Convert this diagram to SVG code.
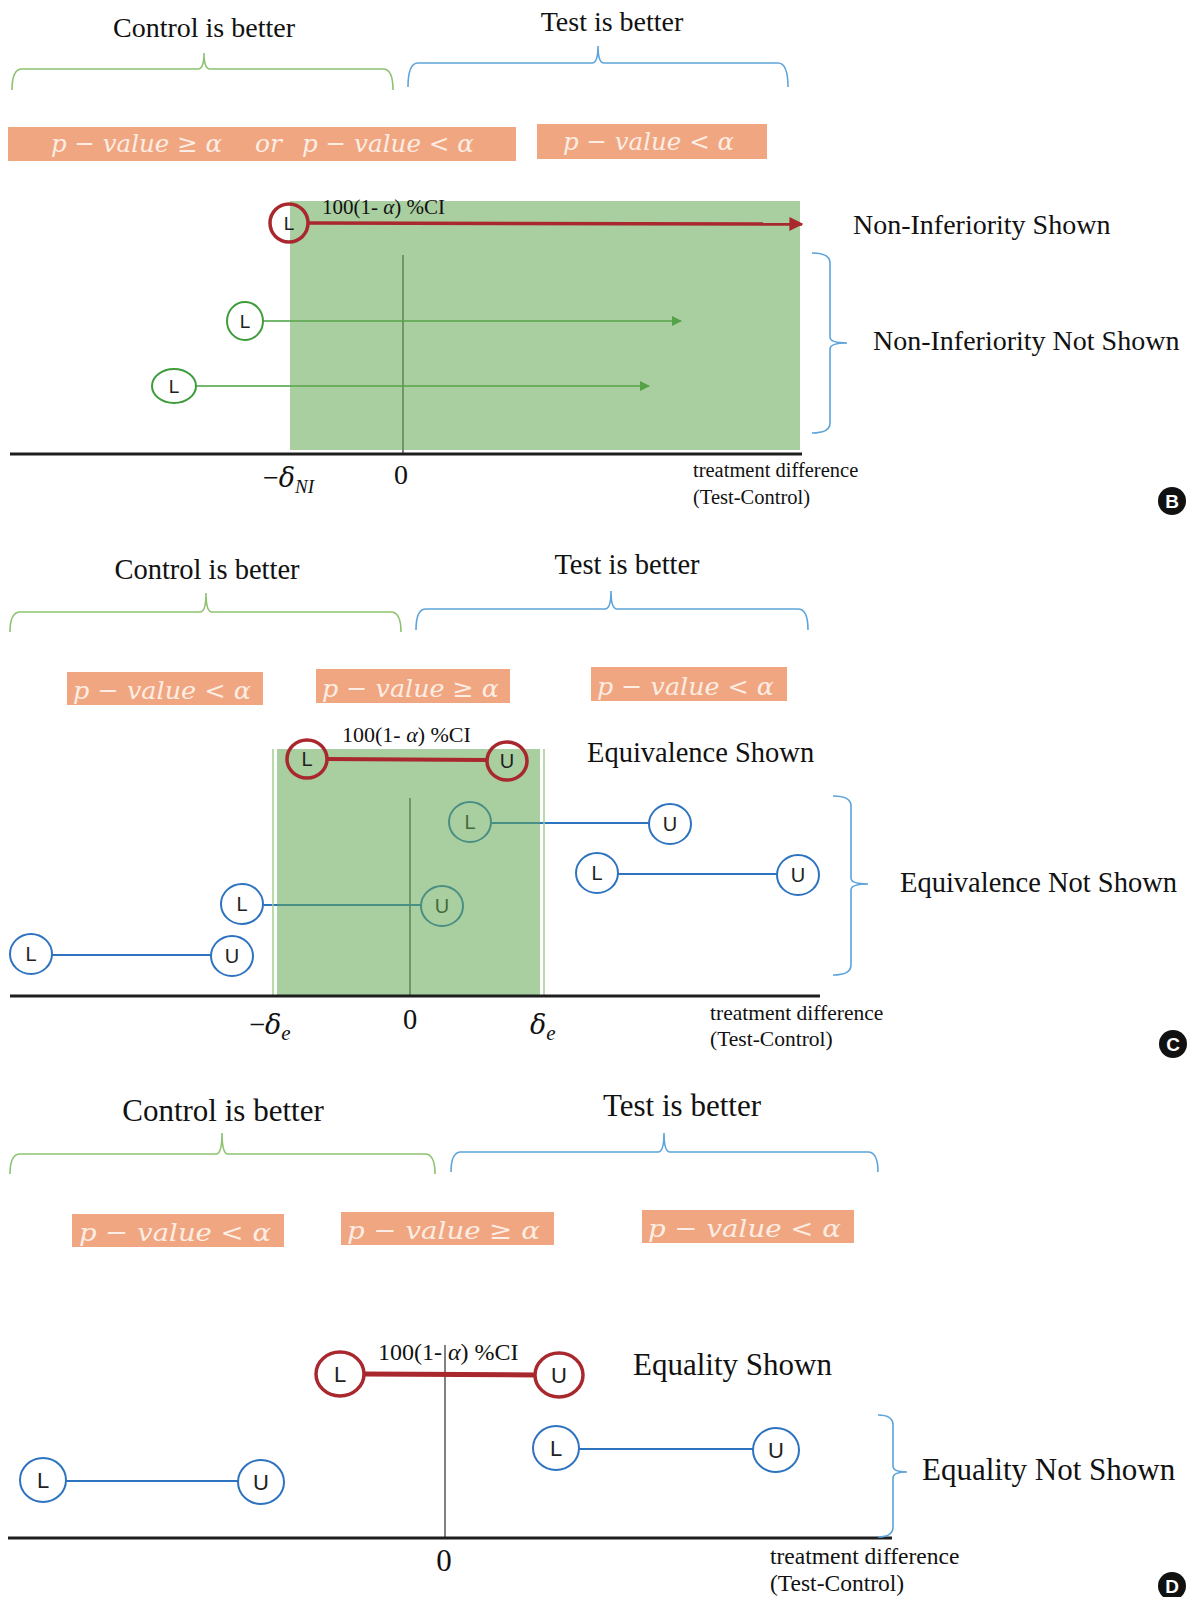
<svg xmlns="http://www.w3.org/2000/svg" width="1190" height="1597" viewBox="0 0 1190 1597">
<style>
.hd{font-family:"Liberation Serif","Times New Roman",serif;fill:#111}
.pv{font-family:"DejaVu Serif","Liberation Serif",serif;font-style:italic;fill:#FDEDE4;font-size:25px}
.obox{fill:#F0A680}
.gb{fill:none;stroke:#8DC26F;stroke-width:1.6}
.bb{fill:none;stroke:#5DA4DA;stroke-width:1.6}
.ax{stroke:#1E1E1E;stroke-width:3}
.vl{stroke:#1a1a1a;stroke-width:1.1}
.rc{fill:none;stroke:#A8282E;stroke-width:3.5}
.rcw{fill:#fff;stroke:#A8282E;stroke-width:3.5}
.bc{fill:#fff;stroke:#2E73C0;stroke-width:2}
.gc{fill:#fff;stroke:#3F9C3B;stroke-width:2}
.lab{font-family:"Liberation Sans",Arial,sans-serif;fill:#222;text-anchor:middle}
.rl{stroke:#A8282E;fill:none}
.bl{stroke:#2E73C0;stroke-width:2;fill:none}
.gl{stroke:#46A03C;stroke-width:1.5;fill:none}
.grn{fill:#63A652;opacity:0.55}
.badge{fill:#111}
.bt{font-family:"Liberation Sans",Arial,sans-serif;font-weight:bold;fill:#fff;text-anchor:middle;font-size:19px}
.dl{font-family:"DejaVu Serif","Liberation Serif",serif;font-style:italic}
</style>
<defs>
<marker id="ar" viewBox="0 0 10 10" refX="9" refY="5" markerWidth="4" markerHeight="4" orient="auto" markerUnits="strokeWidth"><path d="M0,0 L10,5 L0,10 z" fill="#A8282E"/></marker>
<marker id="ag" viewBox="0 0 10 10" refX="9" refY="5" markerWidth="7" markerHeight="7" orient="auto" markerUnits="strokeWidth"><path d="M0,0 L10,5 L0,10 z" fill="#46A03C"/></marker>
</defs>

<!-- ================= Panel B ================= -->
<g id="panelB">
  <text class="hd" x="204" y="37" font-size="28" text-anchor="middle">Control is better</text>
  <text class="hd" x="612" y="31" font-size="28" text-anchor="middle">Test is better</text>
  <path class="gb" d="M12,90 Q12,69 22,69 L198,69 Q204,69 204,53 Q204,69 210,69 L383,69 Q393,69 393,90"/>
  <path class="bb" d="M408,87 Q408,63 418,63 L592,63 Q598,63 598,46 Q598,63 604,63 L778,63 Q788,63 788,87"/>
  <rect class="obox" x="8" y="127" width="508" height="34"/>
  <text class="pv" x="51" y="152" textLength="171" lengthAdjust="spacingAndGlyphs">p − value ≥ α</text>
  <text class="pv" x="255" y="152">or</text>
  <text class="pv" x="302" y="152" textLength="172" lengthAdjust="spacingAndGlyphs">p − value &lt; α</text>
  <rect class="obox" x="537" y="124" width="230" height="35"/>
  <text class="pv" x="563" y="150" textLength="171" lengthAdjust="spacingAndGlyphs">p − value &lt; α</text>
  <line class="vl" x1="403" y1="255" x2="403" y2="454"/>
  <g id="B-conn">
    <line class="gl" x1="263" y1="321" x2="681" y2="321" marker-end="url(#ag)"/>
    <line class="gl" x1="196" y1="386" x2="649" y2="386" marker-end="url(#ag)"/>
  </g>
  <g id="B-L2"><ellipse class="gc" cx="245" cy="321" rx="18" ry="19"/><text class="lab" x="245" y="328" font-size="19">L</text></g>
  <g id="B-L3"><ellipse class="gc" cx="174" cy="386" rx="22" ry="17"/><text class="lab" x="174" y="393" font-size="19">L</text></g>
  <rect class="grn" x="290" y="201" width="510" height="249"/>
  <text class="hd" x="322" y="214" font-size="21" fill="#333">100(1- <tspan font-style="italic">α</tspan>) %CI</text>
  <line class="rl" x1="308" y1="223" x2="802" y2="224" stroke-width="3.5" marker-end="url(#ar)"/>
  <g id="B-L1"><ellipse class="rc" cx="289" cy="223" rx="19" ry="19"/><text class="lab" x="289" y="230" font-size="19">L</text></g>
  <line class="ax" x1="10" y1="454" x2="802" y2="454"/>
  <text class="hd" x="263" y="487" font-size="28">−<tspan class="dl" font-size="27">δ</tspan><tspan font-style="italic" font-size="19" dy="6">NI</tspan></text>
  <text class="hd" x="401" y="484" font-size="28" text-anchor="middle">0</text>
  <text class="hd" x="693" y="477" font-size="20.5">treatment difference</text>
  <text class="hd" x="693" y="504" font-size="20.5">(Test-Control)</text>
  <text class="hd" x="853" y="234" font-size="28">Non-Inferiority Shown</text>
  <path class="bb" d="M812,253 Q830,253 830,263 L830,337 Q830,343 847,343 Q830,343 830,349 L830,423 Q830,433 812,433"/>
  <text class="hd" x="873" y="350" font-size="28">Non-Inferiority Not Shown</text>
  <g id="badgeB"><circle class="badge" cx="1172" cy="501" r="14"/><text class="bt" x="1172" y="508">B</text></g>
</g>

<!-- ================= Panel C ================= -->
<g id="panelC">
  <text class="hd" x="207" y="579" font-size="28.5" text-anchor="middle">Control is better</text>
  <text class="hd" x="627" y="574" font-size="28.5" text-anchor="middle">Test is better</text>
  <path class="gb" d="M10,632 Q10,612 20,612 L200,612 Q206,612 206,593 Q206,612 212,612 L391,612 Q401,612 401,632"/>
  <path class="bb" d="M416,630 Q416,609 426,609 L605,609 Q611,609 611,591 Q611,609 617,609 L798,609 Q808,609 808,630"/>
  <rect class="obox" x="67" y="672" width="196" height="33"/>
  <text class="pv" x="73" y="699" textLength="178" lengthAdjust="spacingAndGlyphs">p − value &lt; α</text>
  <rect class="obox" x="316" y="669" width="194" height="34"/>
  <text class="pv" x="322" y="697" textLength="177" lengthAdjust="spacingAndGlyphs">p − value ≥ α</text>
  <rect class="obox" x="591" y="667" width="196" height="34"/>
  <text class="pv" x="597" y="695" textLength="177" lengthAdjust="spacingAndGlyphs">p − value &lt; α</text>
  <line class="vl" x1="410" y1="798" x2="410" y2="996"/>
  <g id="C-conn">
    <line class="bl" x1="491" y1="823" x2="649" y2="823"/>
    <line class="bl" x1="618" y1="874" x2="777" y2="874"/>
    <line class="bl" x1="263" y1="905" x2="421" y2="905"/>
    <line class="bl" x1="52" y1="955" x2="211" y2="955"/>
  </g>
  <g id="C-L2"><ellipse class="bc" cx="470" cy="822" rx="21" ry="20"/><text class="lab" x="470" y="829" font-size="20">L</text></g>
  <g id="C-U2"><ellipse class="bc" cx="670" cy="824" rx="21" ry="20"/><text class="lab" x="670" y="831" font-size="20">U</text></g>
  <g id="C-L3"><ellipse class="bc" cx="597" cy="873" rx="21" ry="20"/><text class="lab" x="597" y="880" font-size="20">L</text></g>
  <g id="C-U3"><ellipse class="bc" cx="798" cy="875" rx="21" ry="20"/><text class="lab" x="798" y="882" font-size="20">U</text></g>
  <g id="C-L4"><ellipse class="bc" cx="242" cy="904" rx="21" ry="20"/><text class="lab" x="242" y="911" font-size="20">L</text></g>
  <g id="C-U4"><ellipse class="bc" cx="442" cy="906" rx="21" ry="20"/><text class="lab" x="442" y="913" font-size="20">U</text></g>
  <g id="C-L5"><ellipse class="bc" cx="31" cy="954" rx="21" ry="20"/><text class="lab" x="31" y="961" font-size="20">L</text></g>
  <g id="C-U5"><ellipse class="bc" cx="232" cy="956" rx="21" ry="20"/><text class="lab" x="232" y="963" font-size="20">U</text></g>
  <rect class="grn" x="277" y="749" width="263" height="246"/>
  <line x1="273" y1="749" x2="273" y2="995" stroke="#9FCF8E" stroke-width="1.5"/>
  <line x1="544" y1="749" x2="544" y2="995" stroke="#9FCF8E" stroke-width="1.5"/>
  <text class="hd" x="342" y="742" font-size="22">100(1- <tspan font-style="italic">α</tspan>) %CI</text>
  <line class="rl" x1="327" y1="759" x2="487" y2="760" stroke-width="4"/>
  <g id="C-L1"><ellipse class="rc" cx="307" cy="759" rx="20" ry="19"/><text class="lab" x="307" y="766" font-size="20">L</text></g>
  <g id="C-U1"><ellipse class="rc" cx="507" cy="761" rx="20" ry="19"/><text class="lab" x="507" y="768" font-size="20">U</text></g>
  <line class="ax" x1="10" y1="996" x2="820" y2="996"/>
  <text class="hd" x="249" y="1034" font-size="28.5">−<tspan class="dl" font-size="27">δ</tspan><tspan font-style="italic" font-size="21" dy="6">e</tspan></text>
  <text class="hd" x="410" y="1029" font-size="28.5" text-anchor="middle">0</text>
  <text class="hd" x="530" y="1034" font-size="28.5"><tspan class="dl" font-size="27">δ</tspan><tspan font-style="italic" font-size="21" dy="6">e</tspan></text>
  <text class="hd" x="710" y="1020" font-size="21.5">treatment difference</text>
  <text class="hd" x="710" y="1046" font-size="21.5">(Test-Control)</text>
  <text class="hd" x="587" y="762" font-size="28.5">Equivalence Shown</text>
  <path class="bb" d="M833,796 Q851,796 851,806 L851,878 Q851,884 868,884 Q851,884 851,890 L851,965 Q851,975 833,975"/>
  <text class="hd" x="900" y="892" font-size="28.5">Equivalence Not Shown</text>
  <g id="badgeC"><circle class="badge" cx="1173" cy="1044" r="14"/><text class="bt" x="1173" y="1051">C</text></g>
</g>

<!-- ================= Panel D ================= -->
<g id="panelD">
  <text class="hd" x="223" y="1121" font-size="31" text-anchor="middle">Control is better</text>
  <text class="hd" x="682" y="1116" font-size="31" text-anchor="middle">Test is better</text>
  <path class="gb" d="M10,1174 Q10,1154 20,1154 L216,1154 Q222,1154 222,1133 Q222,1154 228,1154 L425,1154 Q435,1154 435,1174"/>
  <path class="bb" d="M451,1172 Q451,1152 461,1152 L658,1152 Q664,1152 664,1133 Q664,1152 670,1152 L868,1152 Q878,1152 878,1172"/>
  <rect class="obox" x="72" y="1214" width="212" height="33"/>
  <text class="pv" x="79" y="1241" textLength="192" lengthAdjust="spacingAndGlyphs">p − value &lt; α</text>
  <rect class="obox" x="341" y="1212" width="213" height="33"/>
  <text class="pv" x="347" y="1239" textLength="193" lengthAdjust="spacingAndGlyphs">p − value ≥ α</text>
  <rect class="obox" x="642" y="1210" width="212" height="33"/>
  <text class="pv" x="648" y="1237" textLength="193" lengthAdjust="spacingAndGlyphs">p − value &lt; α</text>
  <line class="vl" x1="445" y1="1345" x2="445" y2="1538"/>
  <text class="hd" x="378" y="1360" font-size="24">100(1- <tspan font-style="italic">α</tspan>) %CI</text>
  <g id="D-conn">
    <line class="rl" x1="364" y1="1374" x2="535" y2="1375" stroke-width="5"/>
    <line class="bl" x1="579" y1="1449" x2="753" y2="1449"/>
    <line class="bl" x1="66" y1="1481" x2="238" y2="1481"/>
  </g>
  <g id="D-L1"><ellipse class="rcw" cx="340" cy="1374" rx="24" ry="22"/><text class="lab" x="340" y="1382" font-size="22">L</text></g>
  <g id="D-U1"><ellipse class="rcw" cx="559" cy="1375" rx="24" ry="22"/><text class="lab" x="559" y="1383" font-size="22">U</text></g>
  <g id="D-L2"><ellipse class="bc" cx="556" cy="1448" rx="23" ry="22"/><text class="lab" x="556" y="1456" font-size="22">L</text></g>
  <g id="D-U2"><ellipse class="bc" cx="776" cy="1450" rx="23" ry="22"/><text class="lab" x="776" y="1458" font-size="22">U</text></g>
  <g id="D-L3"><ellipse class="bc" cx="43" cy="1480" rx="23" ry="22"/><text class="lab" x="43" y="1488" font-size="22">L</text></g>
  <g id="D-U3"><ellipse class="bc" cx="261" cy="1482" rx="23" ry="22"/><text class="lab" x="261" y="1490" font-size="22">U</text></g>
  <line class="ax" x1="8" y1="1538" x2="892" y2="1538"/>
  <text class="hd" x="444" y="1571" font-size="31" text-anchor="middle">0</text>
  <text class="hd" x="770" y="1564" font-size="23.5">treatment difference</text>
  <text class="hd" x="770" y="1591" font-size="23.5">(Test-Control)</text>
  <text class="hd" x="633" y="1375" font-size="31">Equality Shown</text>
  <path class="bb" d="M878,1415 Q893,1415 893,1425 L893,1466 Q893,1472 907,1472 Q893,1472 893,1478 L893,1527 Q893,1537 878,1537"/>
  <text class="hd" x="922" y="1480" font-size="31">Equality Not Shown</text>
  <g id="badgeD"><circle class="badge" cx="1172" cy="1586" r="14"/><text class="bt" x="1172" y="1593">D</text></g>
</g>
</svg>
